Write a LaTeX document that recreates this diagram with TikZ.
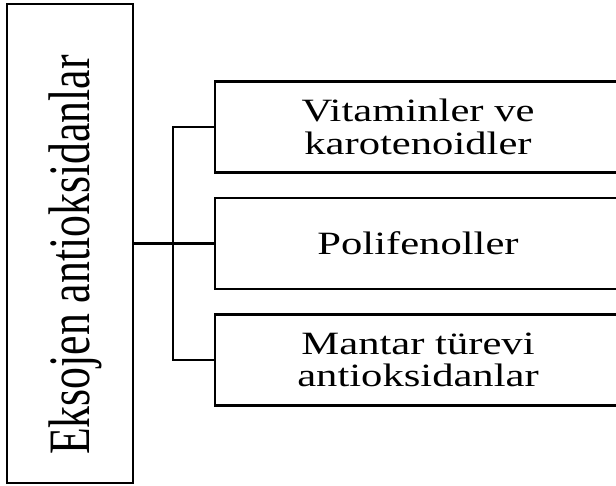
\documentclass[tikz,border=0pt]{standalone}
\usepackage{fontspec}
\usetikzlibrary{positioning}
\newfontfamily\boxfont[FakeStretch=1.31]{Liberation Serif}
\newfontfamily\sidefont[FakeStretch=0.746]{Liberation Serif}

\begin{document}
\begin{tikzpicture}[
  x=0.75pt, y=-0.75pt,
  node distance=17.25pt,
  catbox/.style={draw, line width=1.8pt, minimum width=304.5pt, minimum height=68.25pt, align=center, inner sep=0pt, font=\boxfont\fontsize{24.4}{24.4}\selectfont},
  sidebox/.style={draw, line width=1.8pt, minimum width=94.5pt, minimum height=359.25pt, inner sep=0pt},
  sidetext/.style={rotate=90, inner sep=0pt, font=\sidefont\fontsize{44}{44}\selectfont},
  conn/.style={line width=1.6pt}
]
  \useasboundingbox (0,0) rectangle (616,485);
  \node[sidebox] (eks) at (70,243.5) {};
  \node[sidetext] (ekstxt) at (75,255) {Eksojen antioksidanlar};
  \node[catbox] (pol) at (418,243.5) {Polifenoller};
  \node[catbox, above=of pol] (vit) {Vitaminler ve\\karotenoidler};
  \node[catbox, below=of pol] (man) {Mantar türevi\\antioksidanlar};
  \coordinate (jn) at (173,243.5);

  \draw[conn] (eks.east) -- (pol.west);
  \draw[conn] (vit.west) -| (jn);
  \draw[conn] (jn) |- (man.west);
\end{tikzpicture}
\end{document}
